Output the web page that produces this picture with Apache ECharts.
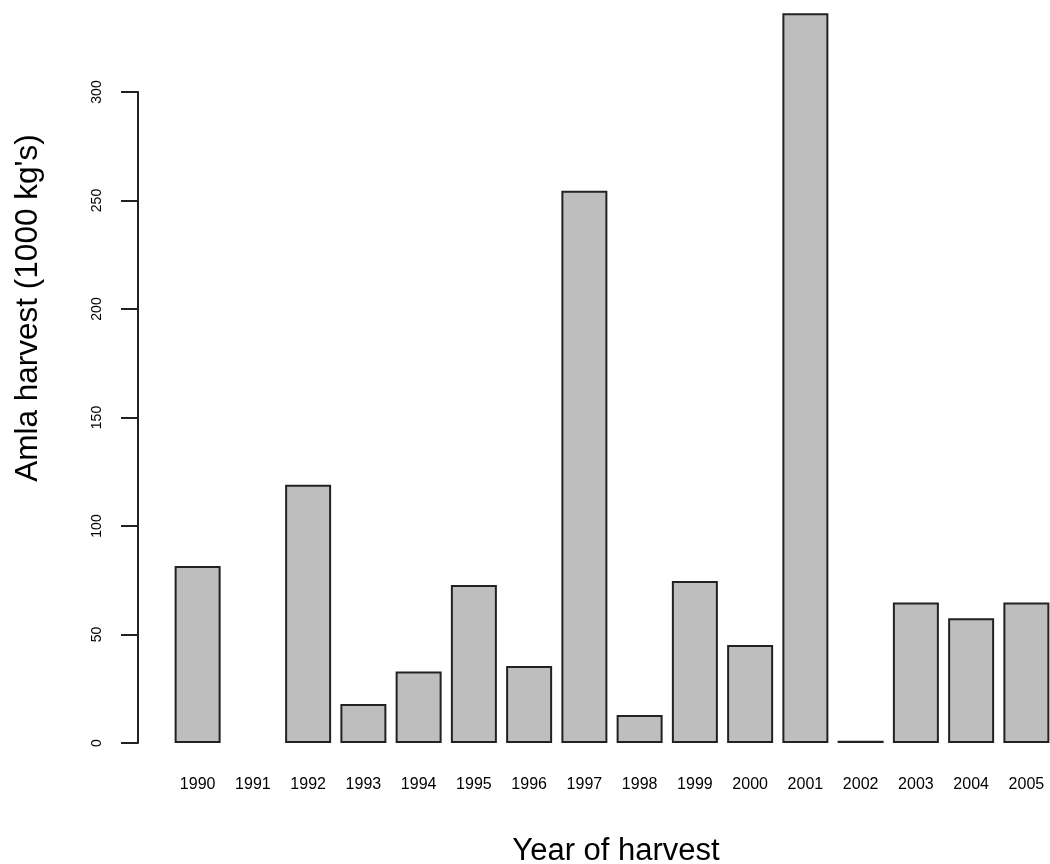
<!DOCTYPE html>
<html>
<head>
<meta charset="utf-8">
<script src="https://cdn.jsdelivr.net/npm/echarts@6/dist/echarts.min.js"></script>
<style>html,body{margin:0;padding:0;background:#fff;overflow:hidden;width:1050px;height:864px}#c{width:1070px;height:864px}</style>
</head>
<body>
<div id="c"></div>
<script>
const years = ['1990','1991','1992','1993','1994','1995','1996','1997','1998','1999','2000','2001','2002','2003','2004','2005'];
const harvest = [81.6, null, 119, 18, 33, 72.8, 35.5, 254.5, 12.9, 74.7, 45.2, 336.3, 1, 64.8, 57.5, 64.8];
const yTicks = [0, 50, 100, 150, 200, 250, 300];
const xTitle = 'Year of harvest';
const yTitle = "Amla harvest (1000 kg's)";

const FONT = 'Liberation Sans, Arial, sans-serif';
const chart = echarts.init(document.getElementById('c'), null, { width: 1070, height: 864 });
chart.setOption({
  animation: false,
  backgroundColor: '#fff',
  grid: { left: 170, width: 884, top: 92, height: 651, containLabel: false },
  xAxis: {
    type: 'category',
    data: years,
    axisLine: { show: false },
    axisTick: { show: false },
    axisLabel: { color: '#000', fontSize: 16, margin: 34, fontFamily: FONT, interval: 0 }
  },
  yAxis: {
    type: 'value',
    min: 0, max: 300, interval: 50,
    offset: 32,
    axisLine: { show: true, lineStyle: { color: '#222', width: 2 } },
    axisTick: { show: true, length: 17, lineStyle: { color: '#222', width: 2 } },
    axisLabel: {
      color: '#000', fontSize: 14, rotate: 90, margin: 34,
      fontFamily: FONT,
      formatter: v => yTicks.includes(v) ? String(v) : ''
    },
    splitLine: { show: false }
  },
  graphic: [{
    type: 'text',
    x: 28, y: 308,
    rotation: Math.PI / 2,
    style: {
      text: yTitle, fill: '#000', fontSize: 31.5, fontFamily: FONT,
      align: 'center', verticalAlign: 'middle'
    }
  }, {
    type: 'text',
    x: 616, y: 851,
    style: {
      text: xTitle, fill: '#000', fontSize: 31, fontFamily: FONT,
      align: 'center', verticalAlign: 'middle'
    }
  }],
  series: [{
    type: 'bar',
    data: harvest,
    barWidth: 46,
    clip: false,
    itemStyle: { color: '#bebebe', borderColor: '#222', borderWidth: 2 }
  }]
});
</script>
</body>
</html>
